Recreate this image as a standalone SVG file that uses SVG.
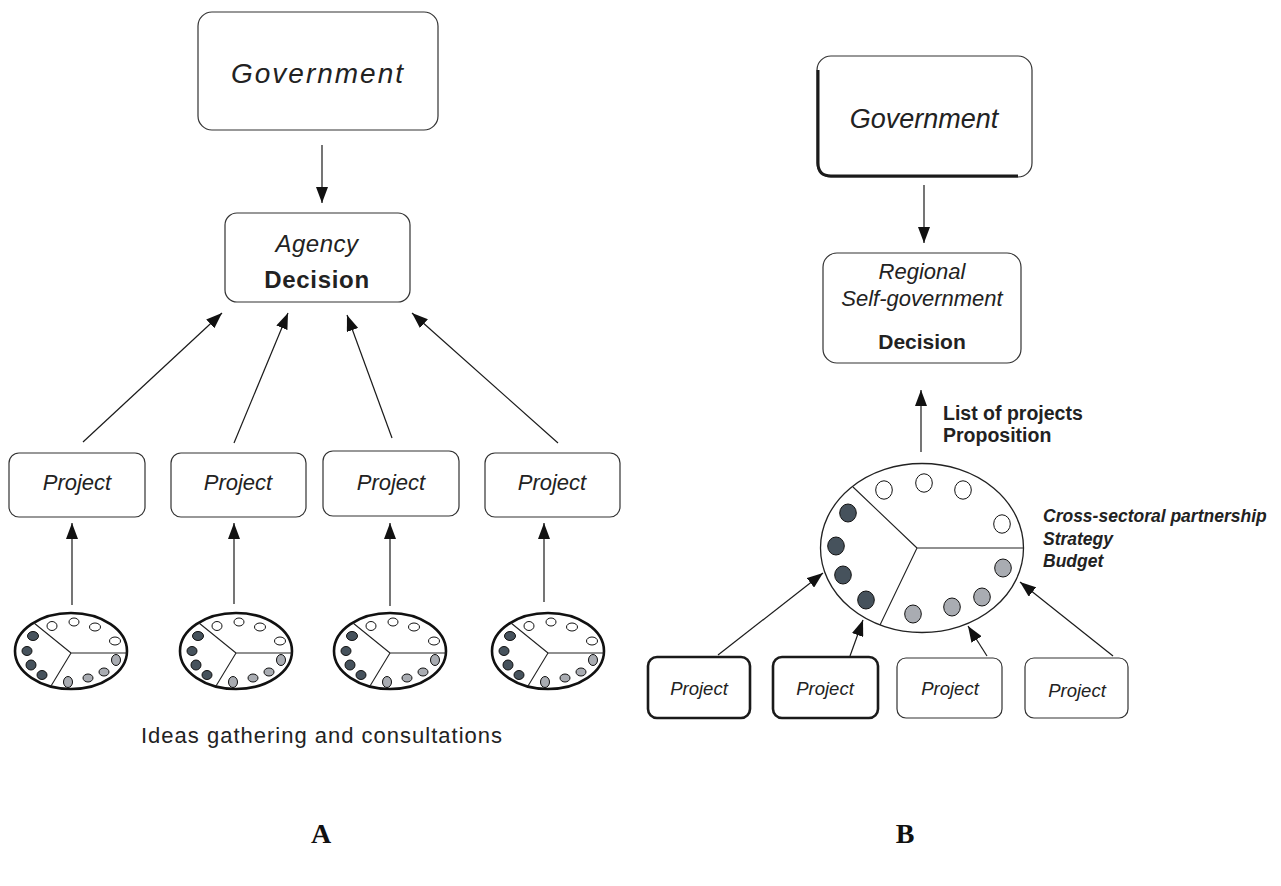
<svg xmlns="http://www.w3.org/2000/svg" width="1281" height="886" viewBox="0 0 1281 886">
<defs>
<style>
.box{fill:#fff;stroke:#333;stroke-width:1.2}
.thick{fill:#fff;stroke:#1a1a1a;stroke-width:2.6}
.t{font-family:"Liberation Sans",Arial,sans-serif;fill:#222}
.it{font-style:italic}
.b{font-weight:bold}
.ln{stroke:#1a1a1a;stroke-width:1.2;fill:none}
.ov{fill:#fff;stroke:#111;stroke-width:2.6}
.big{fill:#fff;stroke:#222;stroke-width:1.3}
.sp{stroke:#222;stroke-width:1.1;fill:none}
.w{fill:#fff;stroke:#111;stroke-width:1}
.d{fill:#46525c;stroke:#111;stroke-width:1}
.g{fill:#a9acb2;stroke:#111;stroke-width:1}
.lbl{font-family:"Liberation Serif","Times New Roman",serif;font-weight:bold;font-size:28px;fill:#111}
</style>
<marker id="ah" viewBox="0 0 16 12" refX="16" refY="6" markerWidth="16" markerHeight="12" markerUnits="userSpaceOnUse" orient="auto">
<path d="M0,0 L16,6 L0,12 z" fill="#111"/>
</marker>
<g id="smallOval">
<ellipse class="ov" cx="0" cy="0" rx="56" ry="38"/>
<path class="sp" d="M0,2 L-37,-28 M0,2 L56,2 M0,2 L-20,35"/>
<ellipse class="w" cx="-19" cy="-25" rx="5" ry="4.5"/>
<ellipse class="w" cx="3" cy="-29" rx="5" ry="4"/>
<ellipse class="w" cx="24" cy="-24" rx="5.5" ry="4"/>
<ellipse class="w" cx="44" cy="-10" rx="5.5" ry="4"/>
<ellipse class="d" cx="-38" cy="-15" rx="5.5" ry="4.5"/>
<ellipse class="d" cx="-44" cy="0" rx="5" ry="4.5"/>
<ellipse class="d" cx="-40" cy="14" rx="5" ry="5"/>
<ellipse class="d" cx="-29" cy="24" rx="5" ry="4.5"/>
<ellipse class="g" cx="-3" cy="31" rx="4.5" ry="5.5"/>
<ellipse class="g" cx="17" cy="27" rx="5" ry="4"/>
<ellipse class="g" cx="33" cy="21" rx="5" ry="4"/>
<ellipse class="g" cx="45" cy="9" rx="4.5" ry="5.5"/>
</g>
</defs>
<rect width="1281" height="886" fill="#fff"/>

<!-- Left panel A -->
<g id="govA">
<rect class="box" x="198" y="12" width="240" height="118" rx="14"/>
<text class="t it" x="318" y="83" font-size="28" letter-spacing="2" text-anchor="middle">Government</text>
</g>
<g id="agency">
<rect class="box" x="225" y="213" width="185" height="89" rx="12"/>
<text class="t it" x="317" y="252" font-size="24" letter-spacing="0.5" text-anchor="middle">Agency</text>
<text class="t b" x="317" y="288" font-size="24" letter-spacing="0.7" text-anchor="middle">Decision</text>
</g>
<g id="projA1">
<rect class="box" x="9" y="453" width="136" height="64" rx="10"/>
<text class="t it" x="77" y="490" font-size="22" text-anchor="middle">Project</text>
</g>
<g id="projA2">
<rect class="box" x="171" y="453" width="135" height="64" rx="10"/>
<text class="t it" x="238" y="490" font-size="22" text-anchor="middle">Project</text>
</g>
<g id="projA3">
<rect class="box" x="323" y="451" width="136" height="65" rx="10" stroke-width="2"/>
<text class="t it" x="391" y="490" font-size="22" text-anchor="middle">Project</text>
</g>
<g id="projA4">
<rect class="box" x="485" y="453" width="135" height="64" rx="10"/>
<text class="t it" x="552" y="490" font-size="22" text-anchor="middle">Project</text>
</g>
<g id="groupA1"><use href="#smallOval" x="71" y="651"/></g>
<g id="groupA2"><use href="#smallOval" x="236" y="651"/></g>
<g id="groupA3"><use href="#smallOval" x="390" y="651"/></g>
<g id="groupA4"><use href="#smallOval" x="548" y="651"/></g>
<text class="t" x="322" y="743" font-size="22" letter-spacing="1" text-anchor="middle">Ideas gathering and consultations</text>
<text class="lbl" x="321" y="843" text-anchor="middle">A</text>

<!-- Right panel B -->
<g id="govB">
<rect class="box" x="817" y="56" width="215" height="121" rx="14" stroke-width="1.5"/>
<path d="M818,70 L818,163 Q818,176 831,176 L1018,176" fill="none" stroke="#1a1a1a" stroke-width="3"/>
<text class="t it" x="924" y="128" font-size="27" text-anchor="middle">Government</text>
</g>
<g id="regional">
<rect class="box" x="823" y="253" width="198" height="110" rx="14"/>
<text class="t it" x="922" y="279" font-size="22" text-anchor="middle">Regional</text>
<text class="t it" x="922" y="306" font-size="22" text-anchor="middle">Self-government</text>
<text class="t b" x="922" y="349" font-size="21" text-anchor="middle">Decision</text>
</g>
<g id="partnership">
<ellipse class="big" cx="922" cy="548" rx="101.5" ry="84.5"/>
<path class="sp" d="M917,548 L853,487 M917,548 L1023.5,548 M917,548 L880,625"/>
<ellipse class="w" cx="884" cy="490" rx="8.3" ry="9.2"/>
<ellipse class="w" cx="924" cy="483" rx="8.3" ry="9.2"/>
<ellipse class="w" cx="963" cy="490" rx="8.3" ry="9.2"/>
<ellipse class="w" cx="1002" cy="524" rx="8.3" ry="9.2"/>
<ellipse class="d" cx="848" cy="513" rx="8.3" ry="9"/>
<ellipse class="d" cx="836" cy="546" rx="8.3" ry="9"/>
<ellipse class="d" cx="843" cy="575" rx="8.3" ry="9"/>
<ellipse class="d" cx="866" cy="600" rx="8.3" ry="9"/>
<ellipse class="g" cx="1003" cy="568" rx="8.3" ry="9"/>
<ellipse class="g" cx="982" cy="597" rx="8.3" ry="9"/>
<ellipse class="g" cx="952" cy="607" rx="8.3" ry="9"/>
<ellipse class="g" cx="913" cy="614" rx="8.3" ry="9"/>
</g>
<text class="t b" x="943" y="420" font-size="19.5">List of projects</text>
<text class="t b" x="943" y="442" font-size="19.5">Proposition</text>
<text class="t b it" x="1043" y="522" font-size="17.5">Cross-sectoral partnership</text>
<text class="t b it" x="1043" y="545" font-size="17.5">Strategy</text>
<text class="t b it" x="1043" y="567" font-size="17.5">Budget</text>
<g id="projB1">
<rect class="thick" x="648" y="657" width="102" height="61" rx="9"/>
<text class="t it" x="699" y="695" font-size="18.5" text-anchor="middle">Project</text>
</g>
<g id="projB2">
<rect class="thick" x="773" y="657" width="105" height="61" rx="9"/>
<text class="t it" x="825" y="695" font-size="18.5" text-anchor="middle">Project</text>
</g>
<g id="projB3">
<rect class="box" x="897" y="658" width="105" height="60" rx="9"/>
<text class="t it" x="950" y="695" font-size="18.5" text-anchor="middle">Project</text>
</g>
<g id="projB4">
<rect class="box" x="1025" y="658" width="103" height="60" rx="9"/>
<text class="t it" x="1077" y="697" font-size="18.5" text-anchor="middle">Project</text>
</g>
<text class="lbl" x="905" y="843" text-anchor="middle">B</text>

<!-- Connectors -->
<g id="connectors">
<line class="ln" x1="322" y1="145" x2="322" y2="203" marker-end="url(#ah)"/>
<line class="ln" x1="83" y1="442" x2="222" y2="313" marker-end="url(#ah)"/>
<line class="ln" x1="234" y1="443" x2="288" y2="313" marker-end="url(#ah)"/>
<line class="ln" x1="392" y1="438" x2="347" y2="315" marker-end="url(#ah)"/>
<line class="ln" x1="558" y1="443" x2="412" y2="313" marker-end="url(#ah)"/>
<line class="ln" x1="72" y1="605" x2="72" y2="523" marker-end="url(#ah)"/>
<line class="ln" x1="234" y1="604" x2="234" y2="523" marker-end="url(#ah)"/>
<line class="ln" x1="390" y1="606" x2="390" y2="523" marker-end="url(#ah)"/>
<line class="ln" x1="544" y1="602" x2="544" y2="523" marker-end="url(#ah)"/>
<line class="ln" x1="924" y1="185" x2="924" y2="243" marker-end="url(#ah)"/>
<line class="ln" x1="921" y1="452" x2="921" y2="390" marker-end="url(#ah)"/>
<line class="ln" x1="718" y1="655" x2="823" y2="573" marker-end="url(#ah)"/>
<line class="ln" x1="850" y1="656" x2="863" y2="620" marker-end="url(#ah)"/>
<line class="ln" x1="987" y1="656" x2="968" y2="626" marker-end="url(#ah)"/>
<line class="ln" x1="1113" y1="656" x2="1020" y2="582" marker-end="url(#ah)"/>
</g>
</svg>
